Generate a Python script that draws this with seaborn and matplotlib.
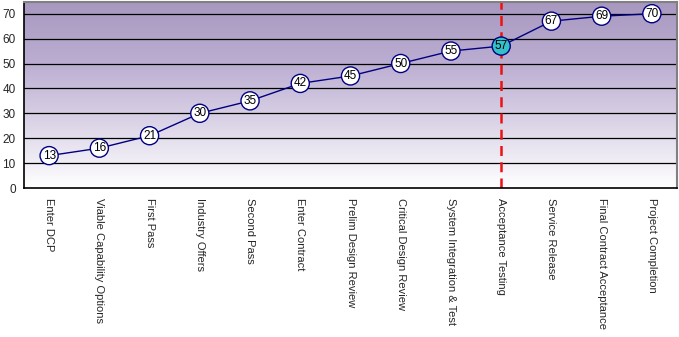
import numpy as np
import pandas as pd
import matplotlib
matplotlib.use("Agg")
import matplotlib.pyplot as plt
import seaborn as sns

milestones = ["Enter DCP", "Viable Capability Options", "First Pass", "Industry Offers",
              "Second Pass", "Enter Contract", "Prelim Design Review", "Critical Design Review",
              "System Integration & Test", "Acceptance Testing", "Service Release",
              "Final Contract Acceptance", "Project Completion"]
months = [13, 16, 21, 30, 35, 42, 45, 50, 55, 57, 67, 69, 70]
current_milestone = "Acceptance Testing"
y_ticks = [0, 10, 20, 30, 40, 50, 60, 70]

sns.set_style("white")
plt.rcParams["font.family"] = ["Liberation Sans", "DejaVu Sans"]

df = pd.DataFrame({"pos": np.arange(len(milestones)), "milestone": milestones, "months": months})
cur_idx = milestones.index(current_milestone)

fig = plt.figure(figsize=(6.79, 3.37), dpi=100)
ax = fig.add_axes([24 / 679, 1 - 188 / 337, 653 / 679, 186 / 337])
ax.set_xlim(-0.5, len(milestones) - 0.5)
ax.set_ylim(0, 74.7)

# vertical gradient background, pale at the bottom and lavender at the top
grad = np.linspace(0, 1, 256).reshape(-1, 1)
cmap = matplotlib.colors.LinearSegmentedColormap.from_list(
    "bg", ["#ffffff", "#ddd6e8", "#bcaed2", "#a898c0"])
ax.imshow(grad, aspect="auto", cmap=cmap, origin="lower",
          extent=[-0.5, len(milestones) - 0.5, 0, 74.7], zorder=0)

for y in y_ticks[1:]:
    ax.axhline(y, color="black", lw=0.9, zorder=1)

ax.axvline(cur_idx, color="#ee1111", lw=1.8, ls=(0, (4, 2.5)), zorder=2)

sns.lineplot(data=df, x="pos", y="months", color="#000080", lw=1.0, ax=ax, zorder=3)

face = ["#33c0c8" if i == cur_idx else "white" for i in range(len(milestones))]
ax.scatter(df["pos"], df["months"], s=170, c=face, edgecolors="#000080", linewidths=1.0, zorder=4)
for x, y in zip(df["pos"], df["months"]):
    ax.text(x, y, str(y), ha="center", va="center", fontsize=8.5, color="black", zorder=5)

ax.set_yticks(y_ticks)
ax.set_yticklabels([str(v) for v in y_ticks], fontsize=8.5)
ax.set_xticks(df["pos"])
ax.set_xticklabels(milestones, rotation=270, fontsize=8, va="top", ha="center")
ax.set_xticks(np.arange(-0.5, len(milestones)), minor=True)
ax.tick_params(axis="x", which="major", length=0, pad=7)
ax.tick_params(axis="x", which="minor", length=4, width=1, color="black", direction="out")
ax.tick_params(axis="y", length=4, width=1, color="black", direction="out", pad=2)
ax.set_xlabel("")
ax.set_ylabel("")

for side in ["left", "bottom"]:
    ax.spines[side].set_color("black")
    ax.spines[side].set_linewidth(1.2)
for side in ["top", "right"]:
    ax.spines[side].set_color("#808080")
    ax.spines[side].set_linewidth(1.5)

fig.savefig("out.png", dpi=100)
